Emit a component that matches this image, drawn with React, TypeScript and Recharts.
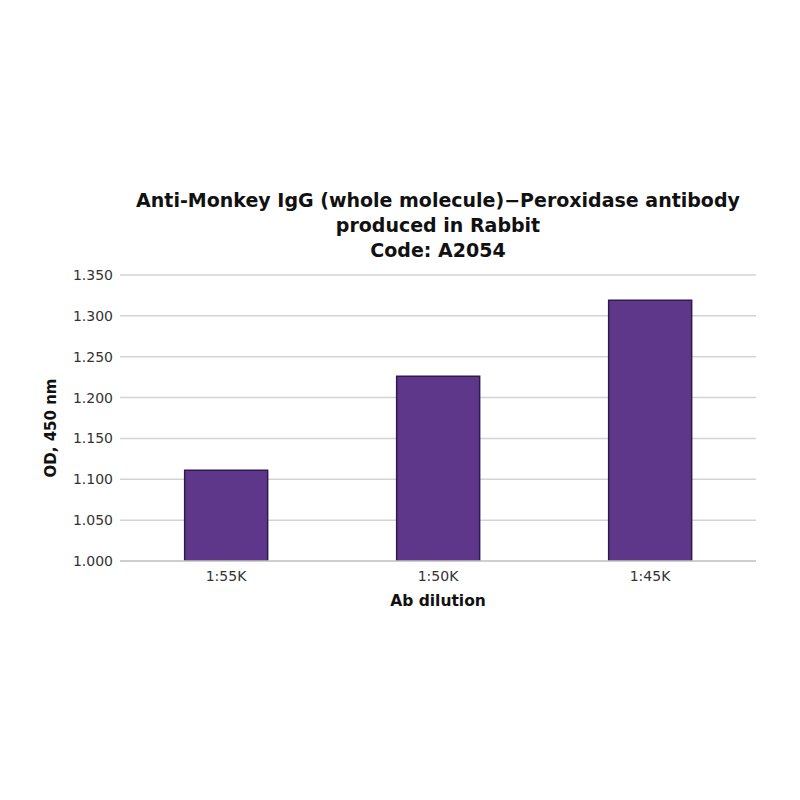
import React from "react";
import {
  BarChart,
  Bar,
  XAxis,
  YAxis,
  CartesianGrid,
} from "recharts";

const dilutions = ["1:55K", "1:50K", "1:45K"];
const odValues = [1.111, 1.226, 1.319];
const yTicks = [1.0, 1.05, 1.1, 1.15, 1.2, 1.25, 1.3, 1.35];

const titleLines = [
  "Anti-Monkey IgG (whole molecule)\u2212Peroxidase antibody",
  "produced in Rabbit",
  "Code: A2054",
];

const FONT = "'DejaVu Sans', Verdana, sans-serif";

const data = dilutions.map((d, i) => ({ dilution: d, od: odValues[i] }));

function YLabel(props: any) {
  const vb = props.viewBox || {};
  const cx = (vb.x || 0) + 51;
  const cy = (vb.y || 0) + (vb.height || 0) / 2 + 10;
  return (
    <text
      x={cx}
      y={cy}
      transform={`rotate(-90, ${cx}, ${cy})`}
      textAnchor="middle"
      dominantBaseline="central"
      style={{ fontFamily: FONT, fontSize: 15, fontWeight: 700, fill: "#111" }}
    >
      OD, 450 nm
    </text>
  );
}

function XLabel(props: any) {
  const vb = props.viewBox || {};
  const cx = (vb.x || 0) + (vb.width || 0) / 2;
  const cy = (vb.y || 0) + 40;
  return (
    <text
      x={cx}
      y={cy}
      textAnchor="middle"
      dominantBaseline="central"
      style={{ fontFamily: FONT, fontSize: 15.5, fontWeight: 700, fill: "#111" }}
    >
      Ab dilution
    </text>
  );
}

export default function App() {
  return (
    <div
      style={{
        position: "absolute",
        left: 0,
        top: 0,
        width: 800,
        height: 800,
        background: "#fff",
      }}
    >
      <div
        style={{
          position: "absolute",
          left: 100,
          width: 676,
          top: 188,
          textAlign: "center",
          fontFamily: FONT,
          fontSize: 19,
          fontWeight: 700,
          lineHeight: "25px",
          color: "#111",
        }}
      >
        {titleLines.map((t) => (
          <div key={t}>{t}</div>
        ))}
      </div>
      <BarChart
        width={800}
        height={800}
        data={data}
        margin={{ top: 275, right: 44, left: 0, bottom: 209 }}
        barCategoryGap="30.5%"
      >
        <CartesianGrid
          vertical={false}
          stroke="#d3d3d3"
          strokeWidth={1.5}
        />
        <XAxis
          dataKey="dilution"
          height={30}
          tickLine={false}
          axisLine={{ stroke: "#c8c8c8", strokeWidth: 1.5 }}
          tick={{ fontFamily: FONT, fontSize: 14, fill: "#333" }}
          tickMargin={4}
          label={<XLabel />}
        />
        <YAxis
          width={120}
          domain={[1.0, 1.35]}
          ticks={yTicks}
          allowDataOverflow
          tickFormatter={(v: number) => v.toFixed(3)}
          axisLine={false}
          tickLine={false}
          tick={{ fontFamily: FONT, fontSize: 14, fill: "#333" }}
          tickMargin={1}
          label={<YLabel />}
        />
        <Bar
          dataKey="od"
          fill="#5e368a"
          stroke="#2d1b50"
          strokeWidth={1.5}
          isAnimationActive={false}
        />
      </BarChart>
    </div>
  );
}
